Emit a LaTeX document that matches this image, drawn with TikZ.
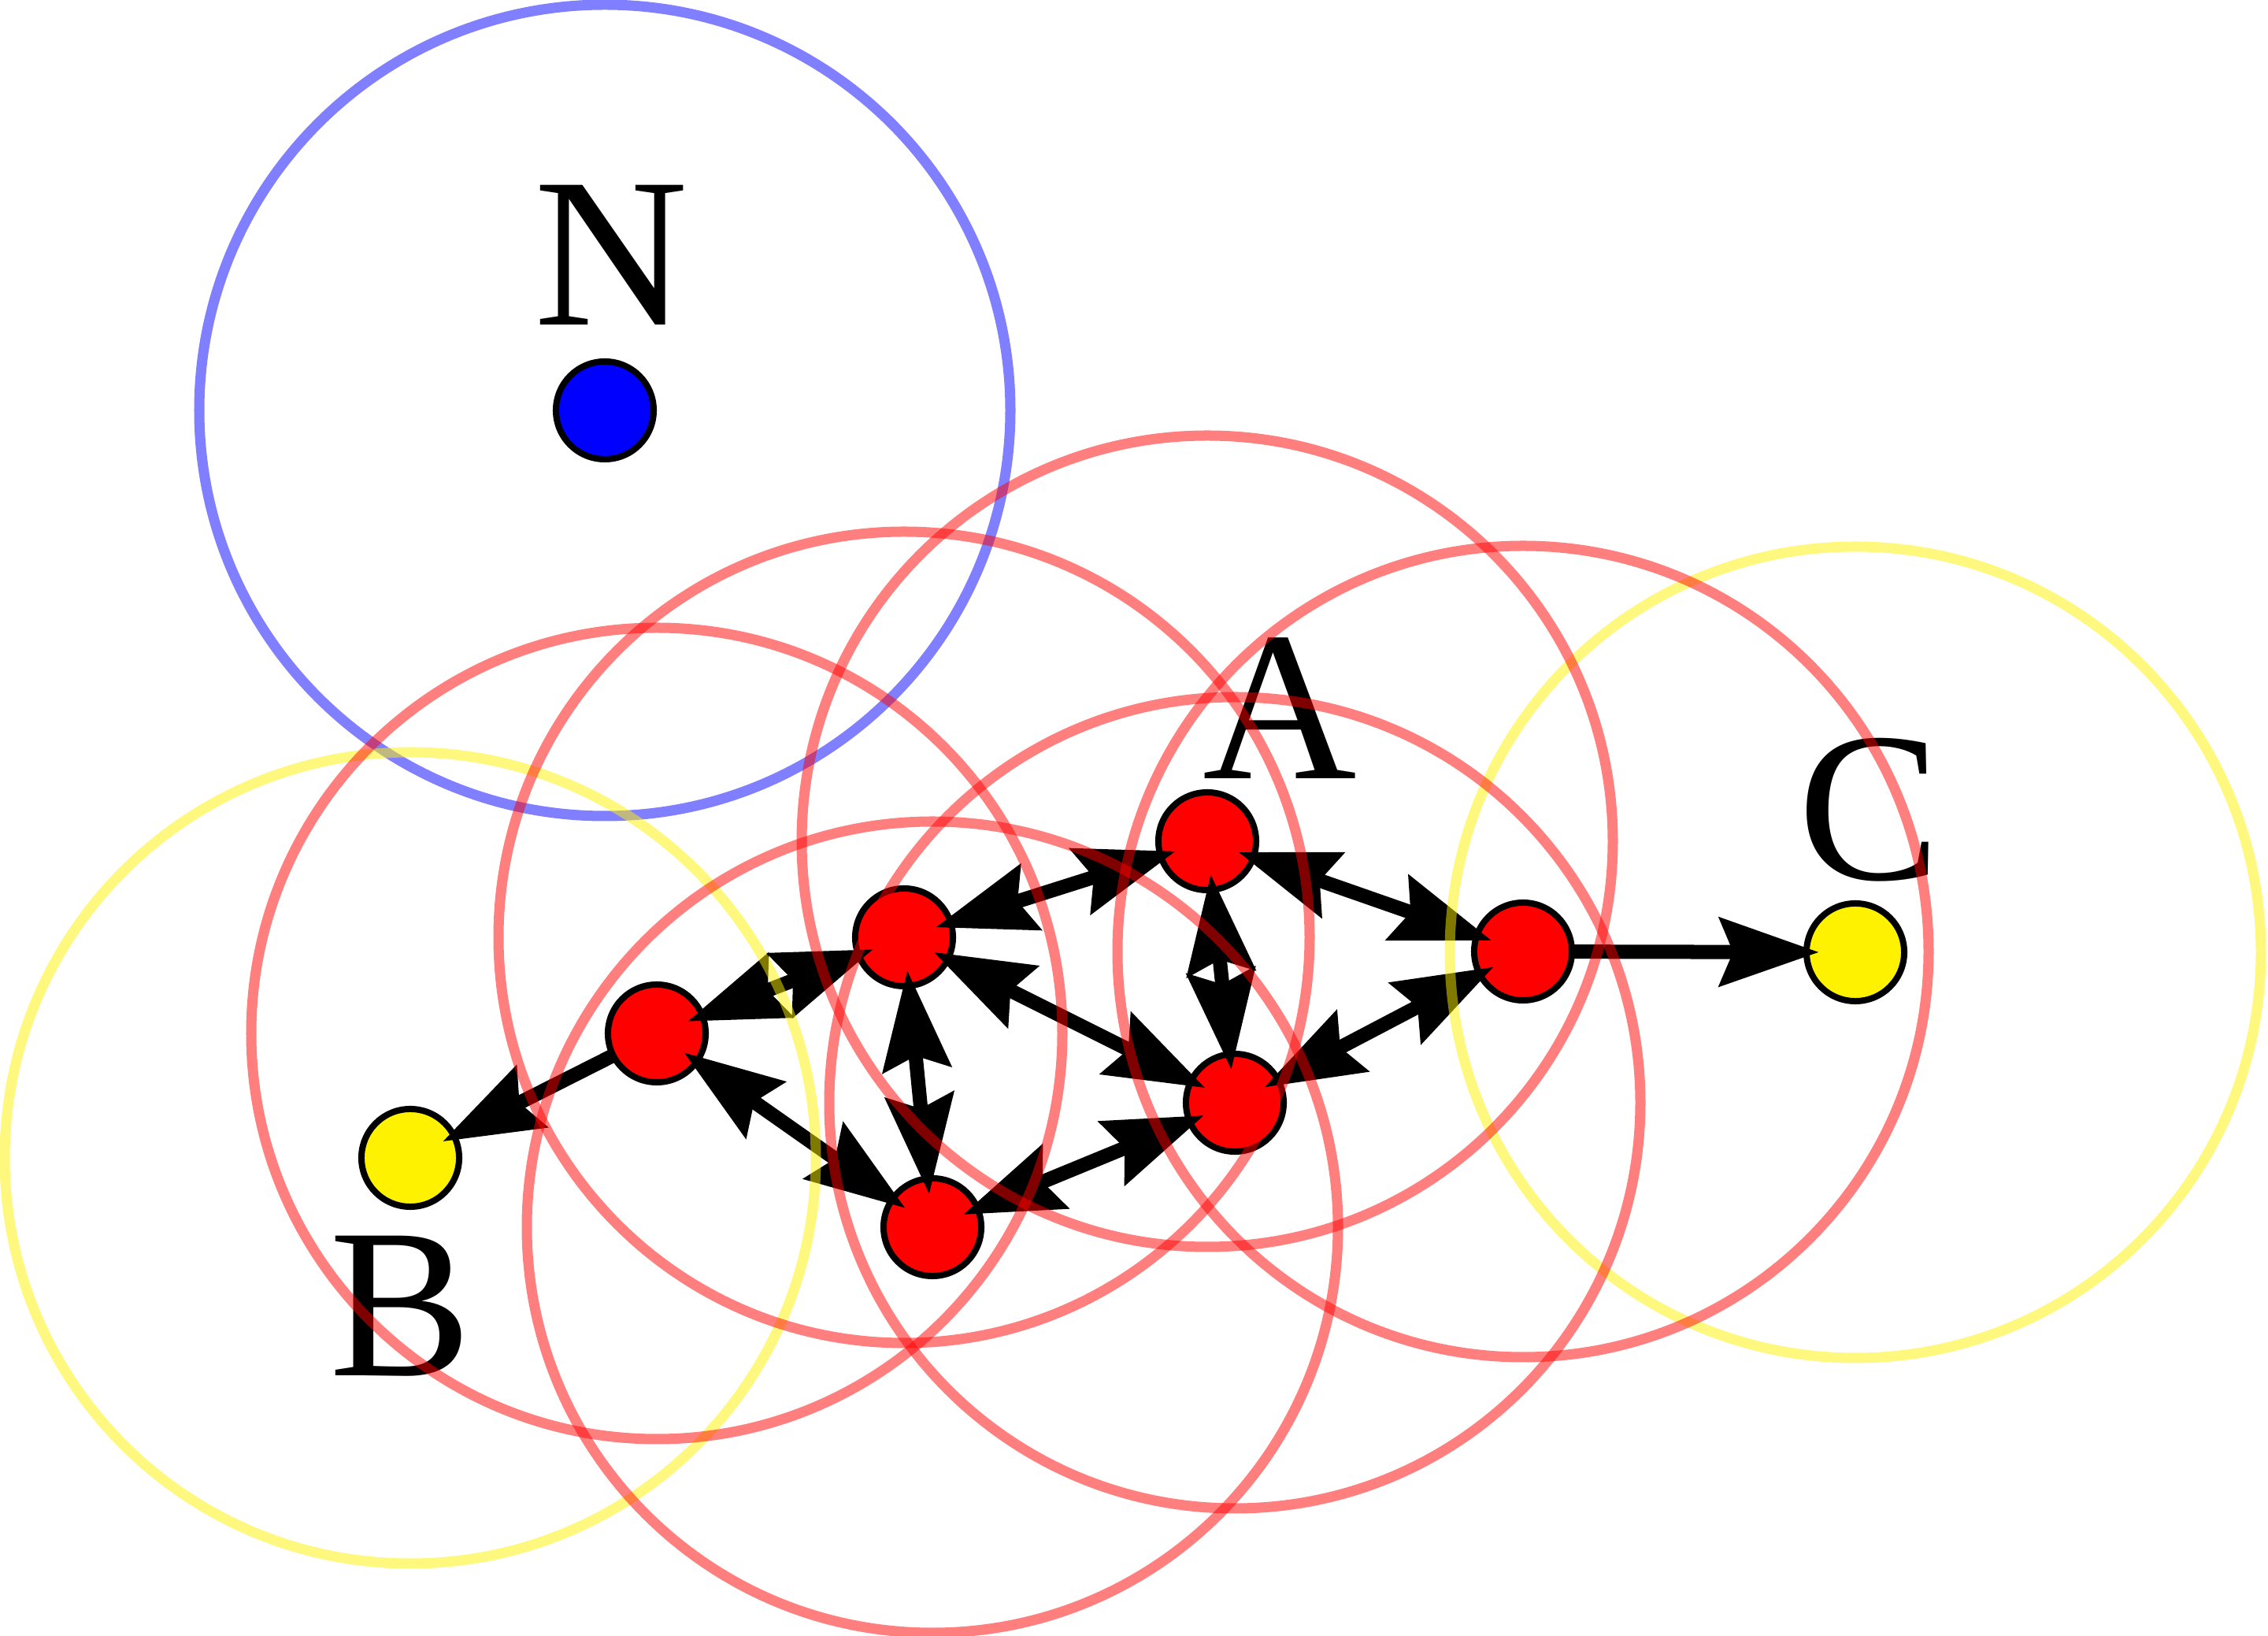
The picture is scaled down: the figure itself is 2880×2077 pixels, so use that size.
\documentclass[tikz,border=0pt]{standalone}
\usepackage{fontspec}
\setmainfont{Liberation Serif}
\usetikzlibrary{arrows.meta}

\tikzset{
  pt/.style={circle,draw=black,line width=0.08cm,minimum size=1.24cm,inner sep=0pt,outer sep=0pt},
  hd/.tip={Stealth[length=1.26cm,width=0.86cm,inset=0.17cm]},
  link/.style={line width=0.18cm,hd-hd,shorten >=-0.2cm,shorten <=-0.2cm},
  push/.style={line width=0.18cm,-hd,shorten >=-0.16cm},
  reach/.style={line width=0.13cm,opacity=0.5},
  lab/.style={font=\fontsize{77}{77}\selectfont,inner sep=0pt},
}

\begin{document}
\begin{tikzpicture}[x=0.01cm,y=-0.01cm]
		\useasboundingbox (0,0) rectangle (2880,2077);
		% points
		\node [pt,fill=blue] (N) at (768,521) {};
		\node [pt,fill=red] (A) at (1533,1068) {};
		\node [pt,fill=red] (P2) at (1148,1190) {};
		\node [pt,fill=red] (P3) at (834,1312) {};
		\node [pt,fill=red] (P4) at (1184,1558) {};
		\node [pt,fill=red] (P5) at (1568,1400) {};
		\node [pt,fill=red] (P6) at (1934,1208) {};
		\node [pt,fill=yellow] (B) at (521,1470) {};
		\node [pt,fill=yellow] (C) at (2356,1209) {};
		% labels
		\node [lab] (labN) at (776,324) {N};
		\node [lab] (labA) at (1625,899) {A};
		\node [lab] (labC) at (2374,1028) {C};
		\node [lab] (labB) at (509,1658) {B};
		% links
		\draw [link] (P3) -- (P2);
		\draw [link] (P3) -- (P4);
		\draw [link] (P2) -- (A);
		\draw [link] (P2) -- (P4);
		\draw [link] (P2) -- (P5);
		\draw [link] (A) -- (P5);
		\draw [link] (A) -- (P6);
		\draw [link] (P5) -- (P6);
		\draw [link] (P4) -- (P5);
		\draw [push] (P3) -- (B);
		\draw [push] (P6) -- (C);
		% reach of each point
		\draw [reach,blue] (N.center) circle [radius=515];
		\draw [reach,yellow] (B.center) circle [radius=515];
		\draw [reach,yellow] (C.center) circle [radius=515];
		\draw [reach,red] (A.center) circle [radius=515];
		\draw [reach,red] (P2.center) circle [radius=515];
		\draw [reach,red] (P3.center) circle [radius=515];
		\draw [reach,red] (P4.center) circle [radius=515];
		\draw [reach,red] (P5.center) circle [radius=515];
		\draw [reach,red] (P6.center) circle [radius=515];
\end{tikzpicture}
\end{document}
